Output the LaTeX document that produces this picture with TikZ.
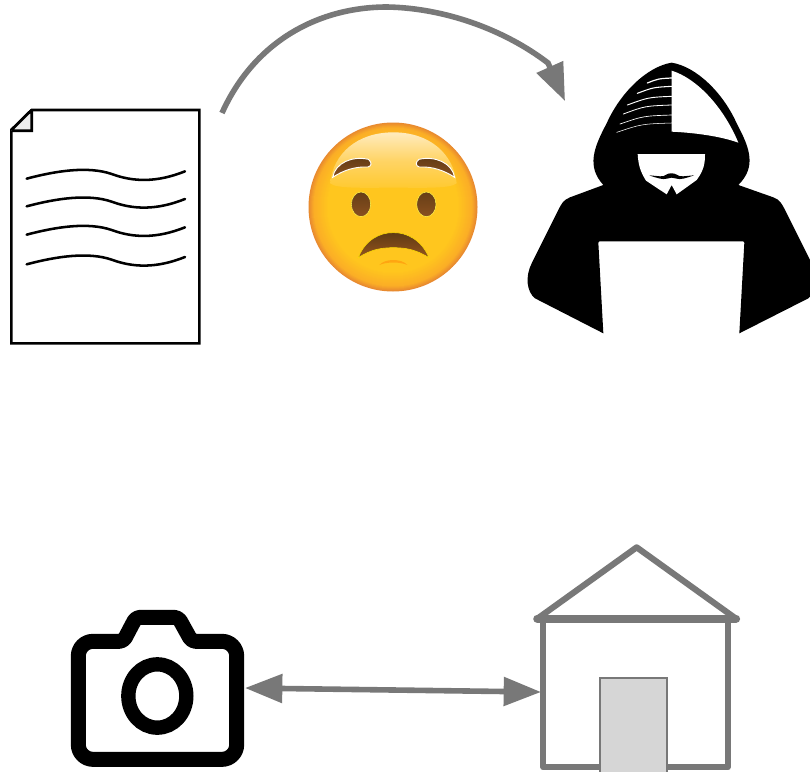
\documentclass[tikz,border=0pt]{standalone}
\usetikzlibrary{arrows.meta}
\definecolor{linkgray}{HTML}{787878}
\definecolor{doorgray}{HTML}{D6D6D6}
\definecolor{emA}{HTML}{FFC61E}
\definecolor{emB}{HTML}{FBAE26}
\definecolor{emC}{HTML}{E88A30}
\definecolor{emHiA}{HTML}{FFEBBE}
\definecolor{emHiB}{HTML}{FFC92E}
\definecolor{emHiM}{HTML}{FFD465}
\definecolor{emBrownA}{HTML}{5E3A14}
\definecolor{emBrownB}{HTML}{8A5020}
\tikzset{
  linkarrow/.style={draw=linkgray,line width=4.2pt},
  bighead/.style={-{Triangle[length=28pt,width=21pt]}},
  wave/.style={draw=black,line width=1.9pt,line cap=round},
  housewall/.style={draw=linkgray,line width=4.6pt,line cap=round,line join=round},
  cam/.style={draw=black,line width=11.25pt},
  zoomdoc/.style={shift={(0,100)},x=0.25pt,y=-0.25pt},
  zoomhack/.style={shift={(520,50)},x=0.25pt,y=-0.25pt},
  zoomemoji/.style={shift={(300,115)},x=0.25pt,y=-0.25pt},
  zoomcam/.style={shift={(60,600)},x=0.25pt,y=-0.25pt},
  zoomhouse/.style={shift={(530,540)},x=0.25pt,y=-0.25pt},
}
\begin{document}
\begin{tikzpicture}[x=0.75pt,y=-0.75pt]
\useasboundingbox (0,0) rectangle (810,771);
\fill[white] (0,0) rectangle (810,771);

% document
\begin{scope}[zoomdoc]
  \draw[line width=2pt,line join=miter,miter limit=2] (34,90) -- (95,30) -- (598,30) -- (598,730) -- (34,730) -- cycle;
  \draw[line width=2pt,fill=black!7,line join=miter,miter limit=2] (34,90) -- (95,30) -- (95,92) -- (34,92);
  \foreach \dy in {0,83,168,257}{
    \draw[wave] (80,236+\dy) .. controls (170,212+\dy) and (265,198+\dy) .. (335,222+\dy)
       .. controls (400,246+\dy) and (470,248+\dy) .. (555,214+\dy);
  }
\end{scope}

% emoji
\foreach \i in {0,...,5}{
  \pgfmathtruncatemacro{\p}{\i*20}
  \fill[emB!\p!emC] (393,207) circle ({84.5-\i});
}
\foreach \i in {1,...,14}{
  \pgfmathtruncatemacro{\p}{\i*100/14}
  \fill[emA!\p!emB] (393,207) circle ({79.5-\i});
}
\begin{scope}[zoomemoji]
  \shade[top color=emHiA,bottom color=emHiB,middle color=emHiM]
    (280,52) .. controls (172,52) and (100,115) .. (90,205)
    .. controls (110,222) and (200,218) .. (280,218)
    .. controls (360,218) and (450,222) .. (470,205)
    .. controls (460,115) and (388,52) .. (280,52) -- cycle;
  % brows
  \shade[top color=emBrownA,bottom color=emBrownB,draw=white,line width=0.7pt]
    (98,187) .. controls (106,143) and (158,122) .. (205,133)
    .. controls (217,142) and (215,153) .. (204,156)
    .. controls (165,154) and (130,166) .. (98,187) -- cycle;
  \shade[top color=emBrownA,bottom color=emBrownB,draw=white,line width=0.7pt]
    (464,187) .. controls (456,143) and (404,122) .. (357,133)
    .. controls (345,142) and (347,153) .. (358,156)
    .. controls (397,154) and (432,166) .. (464,187) -- cycle;
  % eyes
  \shade[top color=emBrownA!80!emBrownB,bottom color=emBrownB,draw=yellow!70!white,line width=0.4pt] (183,268) ellipse (29 and 37);
  \shade[top color=emBrownA!80!emBrownB,bottom color=emBrownB,draw=yellow!70!white,line width=0.4pt] (379,268) ellipse (29 and 37);
  % mouth
  \shade[top color=emBrownA,bottom color=emBrownB!90!orange,draw=yellow!80!orange,line width=0.4pt]
    (175,428) .. controls (195,375) and (240,352) .. (280,353)
    .. controls (320,352) and (365,375) .. (387,428)
    .. controls (350,405) and (320,398) .. (280,398)
    .. controls (240,398) and (210,405) .. (175,428) -- cycle;
  \fill[orange!45!emA] (238,450) .. controls (255,430) and (305,430) .. (322,450)
    .. controls (300,440) and (260,440) .. (238,450) -- cycle;
\end{scope}

% hacker
\begin{scope}[zoomhack]
  \fill[black]
    (455,38) .. controls (530,50) and (610,130) .. (650,220)
    .. controls (690,295) and (710,350) .. (655,405)
    -- (760,442) .. controls (780,450) and (785,460) .. (795,480)
    -- (875,640) .. controls (890,670) and (895,720) .. (865,745)
    -- (658,850) -- (673,578) -- (670,574) -- (238,574) -- (235,578) -- (250,850)
    -- (45,745) .. controls (20,725) and (15,680) .. (35,640)
    -- (115,480) .. controls (125,460) and (130,450) .. (150,442)
    -- (250,405) .. controls (200,350) and (220,295) .. (260,220)
    .. controls (300,130) and (380,50) .. (455,38) -- cycle;
  \fill[white] (455,62) .. controls (530,85) and (610,170) .. (655,278)
    .. controls (600,258) and (520,248) .. (455,245) -- cycle;
  \fill[white] (353,312) -- (555,312) .. controls (555,340) and (552,360) .. (530,390)
    -- (470,433) -- (455,405) -- (440,433) -- (378,392)
    .. controls (358,360) and (355,340) .. (353,312) -- cycle;
  \fill[black] (388,376) .. controls (415,378) and (430,382) .. (437,375)
    .. controls (445,368) and (462,368) .. (472,375)
    .. controls (480,382) and (495,378) .. (522,376)
    .. controls (500,384) and (480,390) .. (470,386)
    .. controls (460,382) and (450,382) .. (440,386)
    .. controls (430,390) and (410,384) .. (388,376) -- cycle;
  \foreach \xa/\ya/\cx/\cy/\ye/\w in {382/99/415/86/84/0.9, 352/130/400/112/109/0.8, 322/165/385/142/139/0.7, 310/192/375/168/165/0.6, 300/222/370/198/195/0.5, 290/247/365/222/219/0.4}{
    \draw[white,line width=\w pt,line cap=round] (\xa,\ya) .. controls (\cx,\cy) .. (455,\ye);
  }
\end{scope}

% camera
\begin{scope}[zoomcam]
  \draw[cam,line join=round] (292,52)
    [rounded corners=3pt] -- (355,52) -- (395,124)
    [rounded corners=11pt] -- (530,124) -- (530,478) -- (55,478) -- (55,124)
    [rounded corners=3pt] -- (190,124) -- (228,52) -- (292,52);
  \draw[line width=10.75pt] (292,288) ellipse (87 and 95);
\end{scope}

% house
\begin{scope}[zoomhouse]
  \draw[housewall] (40,236) -- (40,682) -- (593,682) -- (593,236);
  \draw[housewall] (22,236) -- (320,22) -- (618,236);
  \draw[draw=linkgray,line width=6.2pt,line cap=round] (22,236) -- (618,236);
  \draw[draw=linkgray,line width=1.3pt,fill=doorgray] (210,413) rectangle (412,700);
\end{scope}

% connectors
\coordinate (docOut) at (222,113);
\coordinate (curveTop) at (387,7);
\coordinate (curveBend) at (548,63);
\coordinate (hackerIn) at (565,101);
\coordinate (cameraSide) at (245,688);
\coordinate (houseSide) at (541,692);
\draw[linkarrow,bighead] (docOut) .. controls (255,40) and (320,7) .. (curveTop)
   .. controls (445,8) and (505,30) .. (curveBend) -- (hackerIn);
\draw[linkarrow,{Triangle[length=28pt,width=21pt]}-{Triangle[length=28pt,width=21pt]}] (cameraSide) -- (houseSide);
\end{tikzpicture}
\end{document}
